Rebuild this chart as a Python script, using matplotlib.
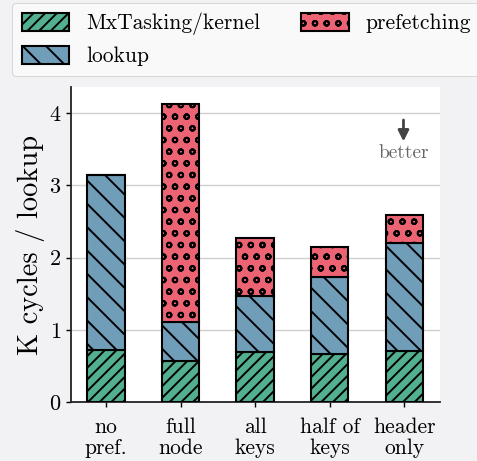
import numpy as np
import matplotlib
matplotlib.use("Agg")
import matplotlib.pyplot as plt

# ───────── data (K cycles / lookup) ─────────
categories = ["no\npref.", "full\nnode", "all\nkeys", "half of\nkeys", "header\nonly"]
kernel = [0.72, 0.57, 0.69, 0.66, 0.71]
lookup = [2.42, 0.54, 0.78, 1.07, 1.49]
prefetching = [0.0, 3.01, 0.80, 0.42, 0.39]

# figure rendered at 70 dpi so the hatch pattern gets the reference's density;
# sizes below are given in "100-dpi points" and scaled by S
DPI = 70
S = 100 / DPI

plt.rcParams["font.family"] = ["cmr10", "DejaVu Serif"]
plt.rcParams["mathtext.fontset"] = "cm"
plt.rcParams["axes.formatter.use_mathtext"] = True
plt.rcParams["hatch.linewidth"] = 1.4 * S
plt.rcParams["xtick.major.width"] = 1.0 * S
plt.rcParams["ytick.major.width"] = 1.0 * S
plt.rcParams["xtick.major.size"] = 3.5 * S
plt.rcParams["ytick.major.size"] = 3.5 * S
plt.rcParams["xtick.major.pad"] = 7.5 * S
plt.rcParams["ytick.major.pad"] = 3.5 * S

BG = "#f2f2f4"
GREEN = "#52b091"
BLUE = "#709eb9"
RED = "#ec6473"

fig = plt.figure(figsize=(477 / DPI, 461 / DPI), dpi=DPI, facecolor=BG)
ax = fig.add_axes([71 / 477, 1 - 402 / 461, (440 - 71) / 477, (402 - 87) / 461])
ax.set_facecolor("white")

x = np.arange(len(categories))
w = 0.5
k = np.array(kernel)
l = np.array(lookup)
p = np.array(prefetching)

ax.bar(x, k, w, color=GREEN, edgecolor="black", hatch="//", linewidth=1.5 * S,
       label="MxTasking/kernel", zorder=3)
ax.bar(x, l, w, bottom=k, color=BLUE, edgecolor="black", hatch="\\", linewidth=1.5 * S,
       label="lookup", zorder=3)
ax.bar(x, p, w, bottom=k + l, color=RED, edgecolor="black", hatch="o", linewidth=1.5 * S,
       label="prefetching", zorder=3)

ax.set_xlim(-0.47, 4.48)
ax.set_ylim(0, 4.36)
ax.set_yticks([0, 1, 2, 3, 4])
ax.set_xticks(x)
ax.set_xticklabels(categories, fontsize=15.5 * S, linespacing=1.1)
ax.tick_params(axis="y", labelsize=16 * S)
ax.set_ylabel("K cycles / lookup", fontsize=20.5 * S, labelpad=3 * S)
ax.grid(axis="y", color="#d0d0d0", linewidth=1.0 * S, zorder=0)
for s in ["top", "right"]:
    ax.spines[s].set_visible(False)
for s in ["left", "bottom"]:
    ax.spines[s].set_linewidth(1.3 * S)
    ax.spines[s].set_color("#222222")

# better arrow
ax.annotate("", xy=(3.99, 3.58), xytext=(3.99, 3.93),
            arrowprops=dict(arrowstyle="-|>", color="#444444", lw=2.0 * S,
                            mutation_scale=16 * S))
ax.text(3.99, 3.45, "better", ha="center", va="center", fontsize=14 * S, color="#666666")

fig.legend(loc="upper left", bbox_to_anchor=(12 / 477, 1 - 3 / 461), ncol=2,
           fontsize=15.5 * S, frameon=True, facecolor="#fcfcfc", edgecolor="#cccccc",
           handlelength=2.2, handleheight=0.9, handletextpad=0.8, columnspacing=1.9,
           borderpad=0.45, labelspacing=0.5, borderaxespad=0)

fig.savefig("out.png", dpi=DPI, facecolor=BG)
